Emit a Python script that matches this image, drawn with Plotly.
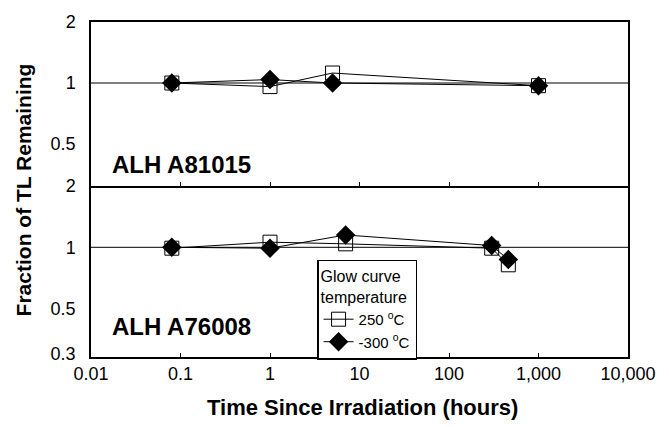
import plotly.graph_objects as go
from plotly.subplots import make_subplots

# Data
top_time = [0.08, 1, 5, 1000]
top_250 = [1.0, 0.96, 1.12, 0.97]
top_300 = [1.0, 1.04, 1.0, 0.97]

bot_time = [0.08, 1, 7, 300, 460]
bot_250 = [0.99, 1.06, 1.04, 0.99, 0.82]
bot_300 = [1.0, 0.99, 1.15, 1.02, 0.87]

x_tickvals = [0.01, 0.1, 1, 10, 100, 1000, 10000]
x_ticktext = ["0.01", "0.1", "1", "10", "100", "1,000", "10,000"]
top_yticks = [0.5, 1, 2]
bot_yticks = [0.3, 0.5, 1, 2]

panel_labels = ["ALH A81015", "ALH A76008"]
series_names = ["250 <sup>o</sup>C", "-300 <sup>o</sup>C"]

FONT = "Liberation Sans, Arial, Helvetica, sans-serif"

fig = make_subplots(rows=2, cols=1, shared_xaxes=True, vertical_spacing=0)

sq = dict(symbol="square-open", size=14, color="black", line=dict(width=1, color="black"))
dm = dict(symbol="diamond", size=15, color="black")
ln = dict(color="black", width=1)

fig.add_trace(go.Scatter(x=top_time, y=top_250, mode="lines+markers", marker=sq, line=ln,
                         name=series_names[0], showlegend=False), row=1, col=1)
fig.add_trace(go.Scatter(x=top_time, y=top_300, mode="lines+markers", marker=dm, line=ln,
                         name=series_names[1], showlegend=False), row=1, col=1)
fig.add_trace(go.Scatter(x=bot_time, y=bot_250, mode="markers+lines", marker=sq, line=ln,
                         name=series_names[0], showlegend=True), row=2, col=1)
fig.add_trace(go.Scatter(x=bot_time, y=bot_300, mode="lines+markers", marker=dm, line=ln,
                         name=series_names[1], showlegend=True), row=2, col=1)

# reference lines at 1
for r in (1, 2):
    fig.add_hline(y=1, line=dict(color="black", width=1), row=r, col=1)

axis_common = dict(showline=True, linecolor="black", linewidth=1.5,
                   showgrid=False, zeroline=False, tickfont=dict(family=FONT, size=18, color="black"))

fig.update_xaxes(type="log", range=[-2, 4], tickvals=x_tickvals, ticktext=x_ticktext,
                 ticks="inside", ticklen=4, tickcolor="black", **axis_common)
fig.update_xaxes(showticklabels=False, mirror=True, row=1, col=1)
fig.update_xaxes(mirror=False, row=2, col=1)
fig.update_yaxes(type="log", tickvals=top_yticks, ticktext=[str(v) for v in top_yticks],
                 range=[-0.509, 0.301], ticks="", mirror=True, ticklabelstandoff=10,
                 row=1, col=1, **axis_common)
fig.update_yaxes(type="log", tickvals=bot_yticks, ticktext=[str(v) for v in bot_yticks],
                 range=[-0.54, 0.301], ticks="", mirror=True, ticklabelstandoff=10,
                 row=2, col=1, **axis_common)

fig.update_layout(
    width=669, height=427,
    margin=dict(l=91, r=41, t=16, b=70),
    paper_bgcolor="white", plot_bgcolor="white",
    font=dict(family=FONT, color="black"),
    yaxis=dict(domain=[0.51, 1.0]),
    yaxis2=dict(domain=[0.0, 0.51]),
    legend=dict(x=0.421, y=0.29, xanchor="left", yanchor="top",
                bordercolor="black", borderwidth=1.5, bgcolor="white",
                font=dict(family=FONT, size=15, color="black"),
                title=dict(text="Glow curve<br>temperature", font=dict(family=FONT, size=16, color="black")),
                itemwidth=30, tracegroupgap=0),
    annotations=[
        dict(text="<b>%s</b>" % panel_labels[0], xref="paper", yref="paper", x=0.036, y=0.575,
             xanchor="left", yanchor="middle", showarrow=False, font=dict(family=FONT, size=24)),
        dict(text="<b>%s</b>" % panel_labels[1], xref="paper", yref="paper", x=0.036, y=0.092,
             xanchor="left", yanchor="middle", showarrow=False, font=dict(family=FONT, size=24)),
        dict(text="<b>Time Since Irradiation (hours)</b>", xref="paper", yref="paper",
             x=0.505, y=-0.152, xanchor="center", yanchor="middle", showarrow=False,
             font=dict(family=FONT, size=22)),
        dict(text="<b>Fraction of TL Remaining</b>", xref="paper", yref="paper",
             x=-0.125, y=0.5, xanchor="center", yanchor="middle", showarrow=False, textangle=-90,
             font=dict(family=FONT, size=21)),
    ],
)

fig.write_html("out.html")
